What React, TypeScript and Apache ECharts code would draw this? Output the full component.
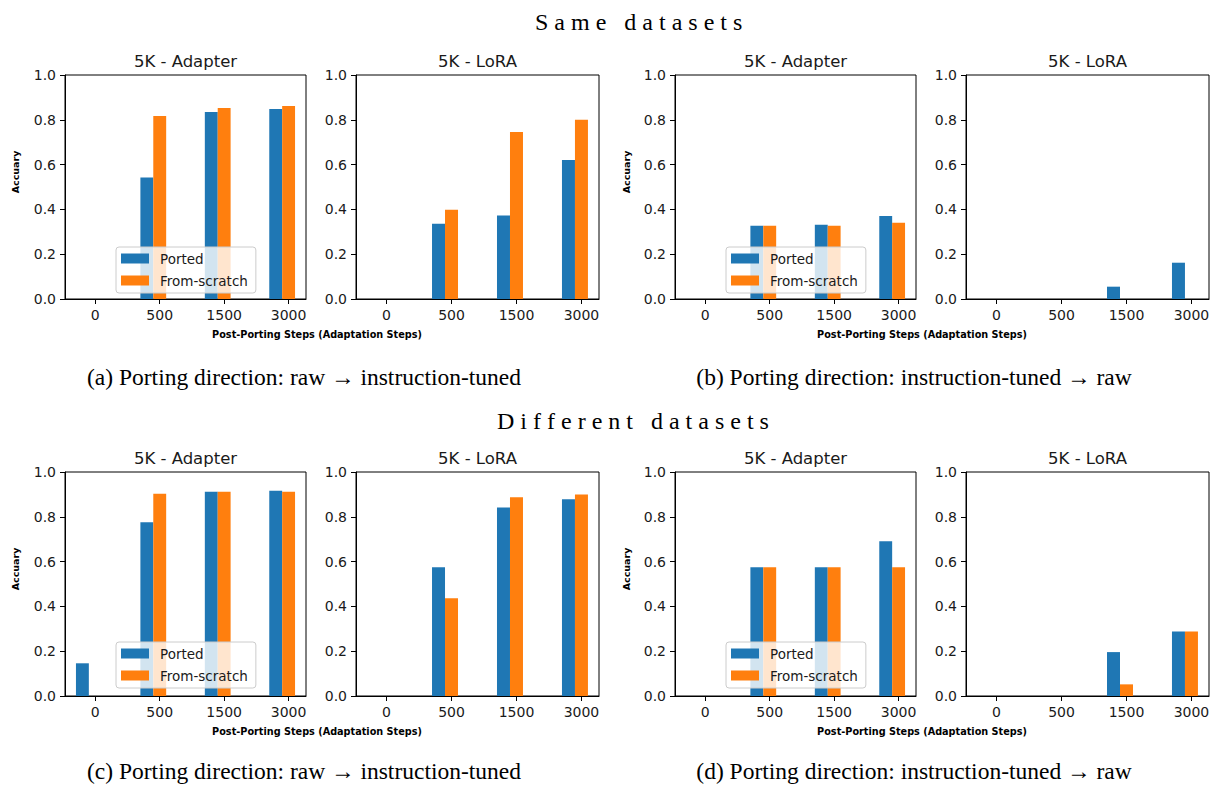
import React, { useEffect, useRef } from "react";
import * as echarts from "echarts";

// ---- data ----
const stepLabels = ["0", "500", "1500", "3000"];
const seriesNames = ["Ported", "From-scratch"];
const panelTitles = ["5K - Adapter", "5K - LoRA", "5K - Adapter", "5K - LoRA"];
const sectionTitles = ["S a m e   d a t a s e t s", "D i f f e r e n t   d a t a s e t s"];
const captions = [
  "(a) Porting direction: raw \u2192 instruction-tuned",
  "(b) Porting direction: instruction-tuned \u2192 raw",
  "(c) Porting direction: raw \u2192 instruction-tuned",
  "(d) Porting direction: instruction-tuned \u2192 raw",
];
const xAxisName = "Post-Porting Steps (Adaptation Steps)";
const yAxisName = "Accuary";

// (a) same datasets, raw -> instruction-tuned
const aAdapterPorted = [0, 0.542, 0.835, 0.848];
const aAdapterScratch = [0, 0.817, 0.853, 0.862];
const aLoraPorted = [0, 0.336, 0.373, 0.621];
const aLoraScratch = [0, 0.398, 0.746, 0.8];
// (b) same datasets, instruction-tuned -> raw
const bAdapterPorted = [0, 0.327, 0.331, 0.371];
const bAdapterScratch = [0, 0.327, 0.327, 0.34];
const bLoraPorted = [0, 0, 0.055, 0.162];
const bLoraScratch = [0, 0, 0, 0];
// (c) different datasets, raw -> instruction-tuned
const cAdapterPorted = [0.146, 0.776, 0.912, 0.916];
const cAdapterScratch = [0, 0.903, 0.912, 0.912];
const cLoraPorted = [0, 0.575, 0.842, 0.878];
const cLoraScratch = [0, 0.436, 0.887, 0.9];
// (d) different datasets, instruction-tuned -> raw
const dAdapterPorted = [0, 0.575, 0.575, 0.691];
const dAdapterScratch = [0, 0.575, 0.575, 0.575];
const dLoraPorted = [0, 0, 0.196, 0.288];
const dLoraScratch = [0, 0, 0.052, 0.288];

const panelData = [
  [aAdapterPorted, aAdapterScratch],
  [aLoraPorted, aLoraScratch],
  [bAdapterPorted, bAdapterScratch],
  [bLoraPorted, bLoraScratch],
  [cAdapterPorted, cAdapterScratch],
  [cLoraPorted, cLoraScratch],
  [dAdapterPorted, dAdapterScratch],
  [dLoraPorted, dLoraScratch],
];

// ---- layout / style ----
const COLORS = ["#1f77b4", "#ff7f0e"];
const OFFSETS = [-0.2, 0];
const BAR_W = 0.2;
const X_MIN = -0.47;
const X_MAX = 3.27;
const COL_LEFT = [65, 356, 675, 966];
const COL_WIDTH = [241, 243, 241, 243];
const ROW_TOP = [75, 472];
const PLOT_H = 224;
const SANS = "DejaVu Sans";
const SERIF = "Liberation Serif";
const TEXT = "#1a1a1a";

function buildOption() {
  const grid: any[] = [];
  const xAxis: any[] = [];
  const yAxis: any[] = [];
  const series: any[] = [];
  const graphic: any[] = [];
  const legend: any[] = [];

  for (let p = 0; p < 8; p++) {
    const row = Math.floor(p / 4);
    const col = p % 4;
    const left = COL_LEFT[col];
    const width = COL_WIDTH[col];
    const top = ROW_TOP[row];
    grid.push({
      left,
      top,
      width,
      height: PLOT_H,
      show: true,
      borderColor: "#000",
      borderWidth: 1,
      backgroundColor: "transparent",
      containLabel: false,
    });
    xAxis.push({
      gridIndex: p,
      type: "value",
      min: X_MIN,
      max: X_MAX,
      axisLine: { show: true, onZero: false, lineStyle: { color: "#000", width: 1 } },
      axisTick: {
        show: true,
        customValues: [0, 1, 2, 3],
        length: 5,
        lineStyle: { color: "#000", width: 1 },
      },
      axisLabel: {
        customValues: [0, 1, 2, 3],
        formatter: (v: number) => stepLabels[Math.round(v)] ?? "",
        margin: 9,
        fontSize: 14,
        color: TEXT,
        fontFamily: SANS,
      },
      splitLine: { show: false },
    });
    yAxis.push({
      gridIndex: p,
      type: "value",
      min: 0,
      max: 1,
      interval: 0.2,
      axisLine: { show: true, onZero: false, lineStyle: { color: "#000", width: 1 } },
      axisTick: { show: true, length: 5, lineStyle: { color: "#000", width: 1 } },
      axisLabel: {
        formatter: (v: number) => v.toFixed(1),
        margin: 9,
        fontSize: 14,
        color: TEXT,
        fontFamily: SANS,
      },
      splitLine: { show: false },
    });

    for (let s = 0; s < 2; s++) {
      const vals = panelData[p][s];
      const color = COLORS[s];
      const off = OFFSETS[s];
      series.push({
        type: "custom",
        name: seriesNames[s],
        xAxisIndex: p,
        yAxisIndex: p,
        itemStyle: { color },
        encode: { x: 0, y: 1 },
        clip: true,
        data: vals.map((v, i) => [i + off, v]),
        renderItem: (params: any, api: any) => {
          const x = api.value(0);
          const y = api.value(1);
          const p1 = api.coord([x - BAR_W / 2, y]);
          const p2 = api.coord([x + BAR_W / 2, 0]);
          return {
            type: "rect",
            shape: { x: p1[0], y: p1[1], width: p2[0] - p1[0], height: p2[1] - p1[1] },
            style: { fill: color },
          };
        },
      });
    }

    // subplot title
    graphic.push({
      type: "text",
      x: left + width / 2,
      y: top - 14,
      style: {
        text: panelTitles[col],
        fontSize: 16.5,
        fontFamily: SANS,
        fill: TEXT,
        align: "center",
        verticalAlign: "middle",
      },
    });

    if (col % 2 === 0) {
      // y axis name
      graphic.push({
        type: "text",
        x: col === 0 ? 15 : 626,
        y: top + 97,
        rotation: Math.PI / 2,
        style: {
          text: yAxisName,
          fontSize: 9.5,
          fontWeight: "bold",
          fontFamily: SANS,
          fill: "#000",
          align: "center",
          verticalAlign: "middle",
        },
      });
      // x axis name (shared by pair)
      graphic.push({
        type: "text",
        x: col === 0 ? 317 : 922,
        y: top + PLOT_H + 35,
        style: {
          text: xAxisName,
          fontSize: 9.7,
          fontWeight: "bold",
          fontFamily: SANS,
          fill: "#000",
          align: "center",
          verticalAlign: "middle",
        },
      });
      legend.push({
        left: col === 0 ? 116 : 726,
        top: row === 0 ? 247 : 642,
        orient: "vertical",
        selectedMode: false,
        icon: "rect",
        itemWidth: 28,
        itemHeight: 10,
        itemGap: 7,
        padding: [4, 8, 5, 5],
        backgroundColor: "rgba(255,255,255,0.8)",
        borderColor: "#cccccc",
        borderWidth: 1,
        borderRadius: 3,
        z: 10,
        textStyle: { fontSize: 13.5, fontFamily: SANS, color: TEXT, lineHeight: 15, padding: [0, 0, 0, 6] },
        data: seriesNames.map((n, i) => ({ name: n, itemStyle: { color: COLORS[i] } })),
      });
    }
  }

  // section titles
  graphic.push({
    type: "text",
    x: 535,
    y: 21.5,
    style: { text: sectionTitles[0], fontSize: 24, fontFamily: SERIF, fill: "#000", align: "left", verticalAlign: "middle" },
  });
  graphic.push({
    type: "text",
    x: 497,
    y: 421,
    style: { text: sectionTitles[1], fontSize: 24, fontFamily: SERIF, fill: "#000", align: "left", verticalAlign: "middle" },
  });
  // captions
  const capPos = [
    [304, 377],
    [914, 377],
    [304, 771],
    [914, 771],
  ];
  captions.forEach((c, i) => {
    graphic.push({
      type: "text",
      x: capPos[i][0],
      y: capPos[i][1],
      style: { text: c, fontSize: 23.5, fontFamily: SERIF, fill: "#000", align: "center", verticalAlign: "middle" },
    });
  });

  return {
    animation: false,
    backgroundColor: "#ffffff",
    grid,
    xAxis,
    yAxis,
    series,
    legend,
    graphic,
  };
}

export default function App() {
  const ref = useRef<HTMLDivElement>(null);
  useEffect(() => {
    if (!ref.current) return;
    const chart = echarts.init(ref.current, undefined, { renderer: "svg" });
    chart.setOption(buildOption() as any);
    return () => chart.dispose();
  }, []);
  return (
    <div
      ref={ref}
      style={{ position: "absolute", left: 0, top: 0, width: 1215, height: 785, background: "#fff" }}
    />
  );
}
